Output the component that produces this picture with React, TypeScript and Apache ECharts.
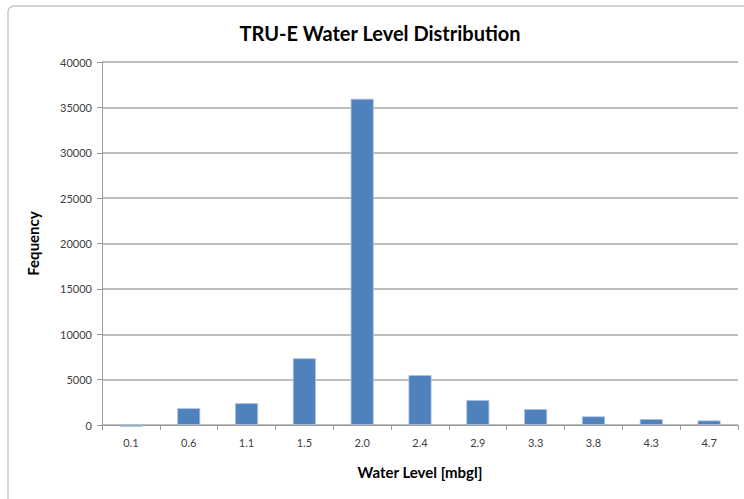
import React, { useEffect, useRef } from "react";
import * as echarts from "echarts";

const categories = ["0.1", "0.6", "1.1", "1.5", "2.0", "2.4", "2.9", "3.3", "3.8", "4.3", "4.7"];
const frequency = [-200, 1850, 2400, 7350, 35950, 5500, 2750, 1750, 950, 650, 500];
const titleText = "TRU-E Water Level Distribution";
const xName = "Water Level [mbgl]";
const yName = "Fequency";

const FONT = "Lato, 'Open Sans', sans-serif";

export default function App() {
  const ref = useRef<HTMLDivElement>(null);
  useEffect(() => {
    document.body.style.margin = "0";
    const chart = echarts.init(ref.current!, null, { renderer: "svg" });
    chart.setOption({
      animation: false,
      backgroundColor: "#ffffff",
      textStyle: { fontFamily: FONT },
      graphic: [
        {
          type: "rect",
          shape: { x: 8, y: 6, width: 800, height: 600, r: 6 },
          style: { fill: "none", stroke: "#c8c8c8", lineWidth: 1.5 },
          silent: true,
          z: -1,
        },
        {
          type: "text",
          x: 380,
          y: 33,
          style: {
            text: titleText,
            fontFamily: FONT,
            fontSize: 20,
            fontWeight: "bold",
            fill: "#000000",
            textAlign: "center",
            textVerticalAlign: "middle",
          },
        },
      ],
      grid: { left: 102, right: 6, top: 62, bottom: 74 },
      xAxis: {
        type: "category",
        data: categories,
        name: xName,
        nameLocation: "middle",
        nameGap: 39,
        nameTextStyle: { fontFamily: FONT, fontSize: 15, fontWeight: "bold", color: "#000" },
        axisLine: { lineStyle: { color: "#9a9a9a", width: 1 } },
        axisTick: { show: true, length: 5, inside: false, lineStyle: { color: "#9a9a9a" } },
        axisLabel: { color: "#404040", fontSize: 11, margin: 12, fontFamily: FONT },
      },
      yAxis: {
        type: "value",
        min: 0,
        max: 40000,
        interval: 5000,
        name: yName,
        nameLocation: "middle",
        nameGap: 62,
        nameRotate: 90,
        nameTextStyle: { fontFamily: FONT, fontSize: 15, fontWeight: "bold", color: "#000" },
        axisLine: { show: true, lineStyle: { color: "#9a9a9a", width: 1 } },
        axisTick: { show: true, length: 5, lineStyle: { color: "#9a9a9a" } },
        axisLabel: {
          color: "#404040",
          fontSize: 11,
          margin: 10,
          fontFamily: FONT,
          formatter: (v: number) => String(v),
        },
        splitLine: { show: true, lineStyle: { color: "#a8a8a8", width: 1.5 } },
      },
      series: [
        {
          type: "bar",
          data: frequency,
          barWidth: 23,
          clip: false,
          itemStyle: { color: "#4f81bd", borderColor: "#a9c1e3", borderWidth: 0.8 },
        },
      ],
    });
    return () => chart.dispose();
  }, []);
  return <div ref={ref} style={{ width: 744, height: 499 }} />;
}
